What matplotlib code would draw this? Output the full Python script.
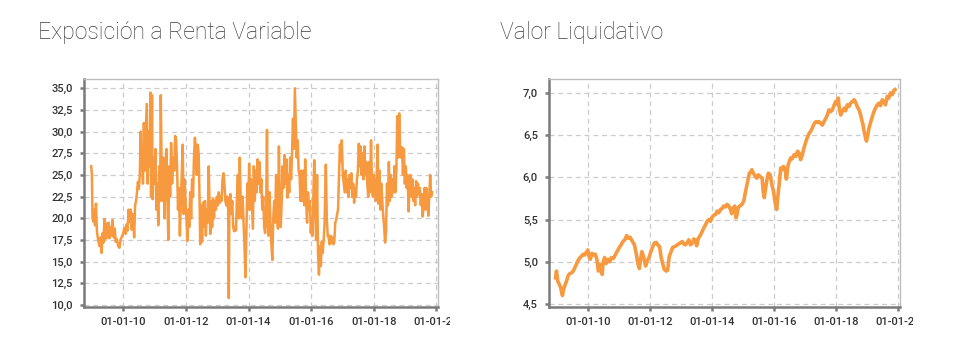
import pandas as pd
import matplotlib
matplotlib.use("Agg")
import matplotlib.pyplot as plt
import matplotlib.dates as mdates
from matplotlib.ticker import FuncFormatter, MultipleLocator
from matplotlib.transforms import Bbox, TransformedBbox

ORANGE = "#F7993F"

# Exposicion a renta variable (%), decimal years
exp_t = [2008.98, 2009.00, 2009.02, 2009.05, 2009.08, 2009.10, 2009.13, 2009.16, 2009.20, 2009.24,
         2009.28, 2009.31, 2009.34, 2009.37, 2009.40, 2009.43, 2009.46, 2009.50, 2009.53, 2009.56,
         2009.60, 2009.63, 2009.66, 2009.70, 2009.73, 2009.76, 2009.80, 2009.84, 2009.88, 2009.92,
         2009.96, 2010.00, 2010.04, 2010.08, 2010.11, 2010.14, 2010.17, 2010.20, 2010.24, 2010.27,
         2010.31, 2010.35, 2010.38, 2010.41, 2010.44, 2010.47, 2010.50, 2010.53, 2010.56, 2010.58,
         2010.61, 2010.63, 2010.66, 2010.69, 2010.72, 2010.75, 2010.78, 2010.81, 2010.84, 2010.87,
         2010.89, 2010.92, 2010.94, 2010.97, 2011.00, 2011.03, 2011.06, 2011.09, 2011.12, 2011.15,
         2011.18, 2011.20, 2011.23, 2011.26, 2011.29, 2011.32, 2011.35, 2011.38, 2011.41, 2011.44,
         2011.47, 2011.50, 2011.53, 2011.56, 2011.60, 2011.63, 2011.66, 2011.69, 2011.72, 2011.75,
         2011.78, 2011.81, 2011.84, 2011.87, 2011.90, 2011.93, 2011.96, 2011.99, 2012.02, 2012.05,
         2012.08, 2012.11, 2012.14, 2012.17, 2012.20, 2012.23, 2012.26, 2012.29, 2012.32, 2012.35,
         2012.38, 2012.41, 2012.44, 2012.46, 2012.49, 2012.52, 2012.55, 2012.58, 2012.61, 2012.64,
         2012.67, 2012.70, 2012.73, 2012.76, 2012.78, 2012.81, 2012.84, 2012.87, 2012.90, 2012.93,
         2012.96, 2012.99, 2013.02, 2013.05, 2013.08, 2013.11, 2013.14, 2013.17, 2013.20, 2013.23,
         2013.26, 2013.29, 2013.32, 2013.35, 2013.37, 2013.39, 2013.42, 2013.45, 2013.48, 2013.51,
         2013.54, 2013.57, 2013.60, 2013.63, 2013.66, 2013.69, 2013.72, 2013.75, 2013.78, 2013.81,
         2013.84, 2013.87, 2013.90, 2013.93, 2013.96, 2013.99, 2014.02, 2014.05, 2014.08, 2014.11,
         2014.14, 2014.17, 2014.20, 2014.23, 2014.26, 2014.29, 2014.32, 2014.35, 2014.38, 2014.41,
         2014.44, 2014.47, 2014.50, 2014.53, 2014.56, 2014.59, 2014.61, 2014.64, 2014.67, 2014.70,
         2014.73, 2014.76, 2014.79, 2014.82, 2014.85, 2014.88, 2014.91, 2014.94, 2014.97, 2015.00,
         2015.03, 2015.06, 2015.09, 2015.12, 2015.15, 2015.18, 2015.21, 2015.24, 2015.27, 2015.30,
         2015.33, 2015.36, 2015.39, 2015.42, 2015.45, 2015.48, 2015.51, 2015.54, 2015.57, 2015.60,
         2015.63, 2015.66, 2015.69, 2015.72, 2015.75, 2015.78, 2015.81, 2015.84, 2015.87, 2015.90,
         2015.93, 2015.96, 2015.99, 2016.02, 2016.05, 2016.08, 2016.10, 2016.13, 2016.16, 2016.19,
         2016.22, 2016.25, 2016.28, 2016.31, 2016.34, 2016.37, 2016.40, 2016.43, 2016.47, 2016.50,
         2016.53, 2016.56, 2016.59, 2016.62, 2016.65, 2016.68, 2016.71, 2016.74, 2016.77, 2016.80,
         2016.83, 2016.86, 2016.89, 2016.92, 2016.95, 2016.98, 2017.01, 2017.04, 2017.07, 2017.10,
         2017.13, 2017.16, 2017.19, 2017.22, 2017.25, 2017.28, 2017.31, 2017.34, 2017.37, 2017.40,
         2017.43, 2017.46, 2017.49, 2017.52, 2017.55, 2017.58, 2017.61, 2017.64, 2017.67, 2017.70,
         2017.73, 2017.76, 2017.79, 2017.82, 2017.85, 2017.88, 2017.91, 2017.94, 2017.97, 2018.00,
         2018.03, 2018.06, 2018.09, 2018.12, 2018.15, 2018.18, 2018.21, 2018.24, 2018.27, 2018.30,
         2018.33, 2018.36, 2018.39, 2018.42, 2018.45, 2018.48, 2018.51, 2018.54, 2018.57, 2018.60,
         2018.63, 2018.66, 2018.69, 2018.72, 2018.75, 2018.78, 2018.81, 2018.84, 2018.87, 2018.90,
         2018.93, 2018.96, 2018.99, 2019.02, 2019.05, 2019.08, 2019.11, 2019.14, 2019.17, 2019.20,
         2019.23, 2019.26, 2019.29, 2019.32, 2019.35, 2019.38, 2019.41, 2019.44, 2019.47, 2019.50,
         2019.53, 2019.56, 2019.59, 2019.62, 2019.65, 2019.68, 2019.71, 2019.74, 2019.77, 2019.80,
         2019.83, 2019.86]
exp_v = [26.0, 25.0, 20.0, 19.6, 21.0, 19.2, 21.7, 18.5, 17.5, 16.8,
         17.8, 16.0, 18.3, 17.2, 19.9, 17.6, 19.4, 17.8, 19.5, 17.7,
         19.0, 18.0, 19.8, 17.8, 18.8, 17.3, 17.6, 16.8, 16.6, 17.6,
         17.9, 18.3, 18.9, 18.2, 19.3, 18.6, 21.0, 19.6, 21.0, 18.7,
         20.5, 17.8, 21.5, 22.0, 23.0, 24.2, 23.4, 25.0, 30.0, 25.5,
         28.2, 24.0, 31.0, 25.5, 29.5, 33.2, 24.0, 30.0, 26.0, 34.5,
         22.5, 34.2, 22.2, 27.0, 24.0, 28.0, 21.0, 24.0, 19.2, 26.0,
         22.0, 34.2, 25.0, 22.0, 27.0, 20.0, 25.5, 28.0, 23.0, 17.5,
         26.0, 22.5, 28.7, 24.0, 27.0, 25.5, 29.5, 29.0, 26.0, 21.0,
         23.5, 18.0, 22.0, 25.0, 28.5, 20.5, 24.5, 22.0, 20.0, 17.4,
         21.0, 19.0, 23.0, 20.0, 24.5, 22.5, 27.0, 29.3, 28.0, 25.0,
         28.5, 27.5, 22.0, 17.0, 21.5, 17.3, 21.8, 19.0, 22.0, 18.0,
         21.0, 19.5, 26.0, 21.0, 18.2, 22.0, 19.0, 22.3, 20.0, 22.0,
         21.0, 22.5, 21.5, 23.0, 21.8, 22.5, 22.0, 24.5, 25.2, 24.0,
         22.0, 21.5, 22.5, 21.0, 10.8, 22.0, 22.8, 20.5, 22.0, 19.0,
         18.5, 19.0, 18.6, 22.5, 25.0, 20.0, 27.0, 22.0, 20.0, 22.5,
         19.5, 17.0, 13.2, 18.0, 24.0, 21.0, 26.3, 21.0, 24.5, 21.5,
         18.8, 26.0, 22.0, 25.5, 23.0, 26.8, 24.0, 26.5, 23.0, 24.5,
         21.0, 22.5, 19.0, 18.3, 20.0, 30.2, 20.0, 18.0, 23.0, 19.5,
         17.0, 15.2, 20.0, 22.0, 19.5, 25.0, 20.5, 18.8, 28.3, 22.0,
         19.0, 22.0, 26.0, 23.5, 27.3, 24.0, 26.8, 22.4, 25.0, 23.0,
         27.0, 24.5, 27.5, 31.5, 28.0, 35.0, 31.0, 27.0, 29.0, 25.5,
         25.0, 22.0, 25.5, 22.0, 25.5, 21.5, 26.8, 22.0, 19.5, 23.0,
         21.0, 22.0, 18.3, 20.0, 18.0, 24.0, 26.7, 22.0, 17.5, 25.0,
         16.0, 13.5, 16.8, 14.5, 17.3, 16.0, 17.5, 19.5, 26.2, 20.0,
         18.0, 17.8, 17.0, 18.0, 17.2, 17.8, 17.0, 17.3, 19.5, 19.8,
         20.5, 21.0, 25.0, 28.5, 26.5, 29.0, 25.0, 24.0, 23.0, 25.5,
         23.0, 24.5, 22.5, 25.0, 23.5, 25.2, 22.5, 24.0, 21.8, 23.5,
         22.5, 24.5, 25.4, 28.6, 26.0, 28.3, 25.0, 27.5, 24.5, 28.3,
         25.0, 26.5, 24.0, 22.5, 26.5, 23.0, 29.0, 24.0, 22.5, 25.0,
         23.5, 22.0, 24.5, 28.5, 21.7, 25.5, 21.0, 24.0, 22.0, 20.3,
         19.0, 17.2, 18.5, 24.0, 21.5, 26.5, 22.0, 25.0, 22.5, 24.5,
         23.0, 26.0, 23.0, 25.5, 31.8, 27.0, 32.1, 28.0, 27.0, 28.2,
         25.0, 28.0, 24.0, 26.0, 23.5, 25.0, 20.8, 24.0, 25.0, 22.5,
         24.5, 22.0, 23.5, 21.5, 24.3, 22.5, 24.0, 22.8, 23.5, 21.5,
         22.8, 20.2, 21.5, 23.5, 21.0, 23.5, 22.0, 20.3, 22.5, 25.0,
         22.5, 23.0]

# Valor liquidativo, decimal years
val_t = [2008.96, 2008.99, 2009.03, 2009.07, 2009.12, 2009.15, 2009.18, 2009.22, 2009.27, 2009.32,
         2009.37, 2009.42, 2009.48, 2009.53, 2009.58, 2009.63, 2009.69, 2009.75, 2009.80, 2009.85,
         2009.90, 2009.95, 2010.00, 2010.04, 2010.08, 2010.13, 2010.19, 2010.24, 2010.29, 2010.34,
         2010.38, 2010.42, 2010.46, 2010.49, 2010.54, 2010.59, 2010.65, 2010.70, 2010.76, 2010.82,
         2010.88, 2010.94, 2011.00, 2011.07, 2011.13, 2011.19, 2011.25, 2011.30, 2011.36, 2011.44,
         2011.50, 2011.56, 2011.61, 2011.66, 2011.70, 2011.74, 2011.80, 2011.86, 2011.92, 2011.97,
         2012.03, 2012.08, 2012.14, 2012.20, 2012.25, 2012.31, 2012.36, 2012.41, 2012.46, 2012.52,
         2012.57, 2012.62, 2012.68, 2012.73, 2012.80, 2012.88, 2012.96, 2013.04, 2013.09, 2013.14,
         2013.20, 2013.25, 2013.30, 2013.36, 2013.41, 2013.46, 2013.50, 2013.56, 2013.63, 2013.68,
         2013.73, 2013.79, 2013.84, 2013.90, 2013.95, 2014.00, 2014.05, 2014.11, 2014.16, 2014.21,
         2014.27, 2014.32, 2014.37, 2014.43, 2014.48, 2014.54, 2014.59, 2014.63, 2014.68, 2014.73,
         2014.77, 2014.80, 2014.84, 2014.89, 2014.96, 2015.02, 2015.07, 2015.12, 2015.16, 2015.20,
         2015.24, 2015.28, 2015.33, 2015.38, 2015.44, 2015.49, 2015.55, 2015.61, 2015.65, 2015.68,
         2015.71, 2015.76, 2015.81, 2015.87, 2015.92, 2015.98, 2016.03, 2016.08, 2016.12, 2016.16,
         2016.21, 2016.25, 2016.30, 2016.35, 2016.39, 2016.45, 2016.53, 2016.58, 2016.64, 2016.70,
         2016.75, 2016.80, 2016.85, 2016.90, 2016.96, 2017.04, 2017.12, 2017.18, 2017.23, 2017.29,
         2017.34, 2017.39, 2017.44, 2017.50, 2017.55, 2017.60, 2017.66, 2017.71, 2017.76, 2017.82,
         2017.87, 2017.93, 2017.98, 2018.02, 2018.06, 2018.10, 2018.14, 2018.19, 2018.25, 2018.30,
         2018.35, 2018.41, 2018.46, 2018.52, 2018.57, 2018.62, 2018.67, 2018.73, 2018.78, 2018.82,
         2018.86, 2018.89, 2018.92, 2018.95, 2018.97, 2019.01, 2019.05, 2019.10, 2019.16, 2019.21,
         2019.26, 2019.32, 2019.37, 2019.42, 2019.48, 2019.53, 2019.58, 2019.64, 2019.69, 2019.74,
         2019.80, 2019.85, 2019.89]
val_v = [4.81, 4.89, 4.77, 4.74, 4.70, 4.65, 4.60, 4.68, 4.73, 4.78,
         4.84, 4.86, 4.87, 4.89, 4.93, 4.97, 5.02, 5.05, 5.07, 5.09,
         5.08, 5.11, 5.14, 5.06, 5.03, 5.10, 5.08, 5.09, 5.03, 4.89,
         4.97, 4.92, 4.85, 4.99, 5.05, 4.98, 5.03, 5.00, 5.05, 5.04,
         5.08, 5.12, 5.16, 5.20, 5.24, 5.26, 5.31, 5.28, 5.29, 5.24,
         5.20, 5.09, 4.98, 4.92, 5.04, 5.12, 5.05, 4.95, 5.02, 5.05,
         5.12, 5.17, 5.22, 5.23, 5.20, 5.18, 5.05, 4.98, 4.91, 4.89,
         4.90, 5.06, 5.12, 5.17, 5.18, 5.20, 5.22, 5.24, 5.21, 5.20,
         5.23, 5.26, 5.20, 5.22, 5.27, 5.26, 5.19, 5.28, 5.32, 5.36,
         5.40, 5.44, 5.48, 5.50, 5.48, 5.53, 5.55, 5.56, 5.60, 5.58,
         5.62, 5.63, 5.66, 5.65, 5.68, 5.66, 5.62, 5.57, 5.64, 5.66,
         5.52, 5.56, 5.64, 5.66, 5.68, 5.72, 5.82, 5.91, 5.98, 6.05,
         6.06, 6.09, 6.05, 6.02, 5.99, 6.03, 6.01, 5.99, 5.82, 5.76,
         5.84, 5.96, 6.05, 6.03, 5.92, 5.83, 5.70, 5.62, 5.78, 5.92,
         6.11, 6.09, 6.13, 6.10, 5.98, 6.15, 6.23, 6.22, 6.27, 6.25,
         6.31, 6.29, 6.21, 6.26, 6.35, 6.45, 6.52, 6.55, 6.59, 6.64,
         6.66, 6.65, 6.66, 6.64, 6.62, 6.66, 6.70, 6.74, 6.80, 6.78,
         6.80, 6.86, 6.90, 6.87, 6.94, 6.80, 6.74, 6.78, 6.82, 6.79,
         6.86, 6.84, 6.88, 6.90, 6.92, 6.89, 6.84, 6.80, 6.74, 6.68,
         6.62, 6.55, 6.50, 6.45, 6.43, 6.50, 6.58, 6.65, 6.72, 6.78,
         6.82, 6.86, 6.88, 6.85, 6.92, 6.90, 6.86, 6.96, 6.94, 7.00,
         6.98, 7.03, 7.04]


def to_dates(years):
    out = []
    for y in years:
        yi = int(y)
        out.append(pd.Timestamp(yi, 1, 1) + pd.Timedelta(days=(y - yi) * 365.25))
    return out


comma = FuncFormatter(lambda v, p: f"{v:.1f}".replace(".", ","))


def style(ax):
    ax.grid(True, ls=(0, (4, 3)), color="#cccccc", lw=0.9)
    ax.set_axisbelow(True)
    for s in ["top", "right"]:
        ax.spines[s].set_color("#bdbdbd")
        ax.spines[s].set_linewidth(1.0)
    for s in ["left", "bottom"]:
        ax.spines[s].set_color("#7a7a7a")
        ax.spines[s].set_linewidth(1.8)
    ax.tick_params(length=3, width=1.8, color="#7a7a7a", labelsize=8,
                   labelcolor="#333333")
    ax.tick_params(axis="y", pad=5)
    ax.tick_params(axis="x", pad=4)
    ax.xaxis.set_major_locator(mdates.YearLocator(2))
    ax.xaxis.set_major_formatter(mdates.DateFormatter("%d-%m-%y"))
    ax.yaxis.set_major_formatter(comma)
    ax.set_xlim(to_dates([2008.75, 2020.05]))


fig = plt.figure(figsize=(9.59, 3.64), dpi=100)

ax1 = fig.add_axes([84 / 959, 57 / 364, 354 / 959, 228 / 364])
ax1.plot(to_dates(exp_t), exp_v, color=ORANGE, lw=1.8)
ax1.set_ylim(9.77, 36.07)
ax1.yaxis.set_major_locator(MultipleLocator(2.5))
style(ax1)

ax2 = fig.add_axes([549 / 959, 57 / 364, 351 / 959, 228 / 364])
ax2.plot(to_dates(val_t), val_v, color=ORANGE, lw=2.6)
ax2.set_ylim(4.464, 7.166)
ax2.yaxis.set_major_locator(MultipleLocator(0.5))
style(ax2)

fig.text(38 / 959, 1 - 32 / 364, "Exposición a Renta Variable", fontsize=16.6,
         family="Roboto", fontweight="light", color="#3c3c3c", va="center")
fig.text(500 / 959, 1 - 32 / 364, "Valor Liquidativo", fontsize=16.6,
         family="Roboto", fontweight="light", color="#3c3c3c", va="center")

# last date label is cut off by the chart box in the original
fig.canvas.draw()
for ax, cx in [(ax1, 450), (ax2, 913)]:
    box = TransformedBbox(Bbox([[0, 0], [cx / 959, 1]]), fig.transFigure)
    for lbl in ax.get_xticklabels() + ax.get_yticklabels():
        lbl.set_family("Roboto")
        lbl.set_fontweight("medium")
    for lbl in ax.get_xticklabels():
        lbl.set_clip_box(box)
        lbl.set_clip_on(True)

fig.savefig("out.png", dpi=100, facecolor="white")
